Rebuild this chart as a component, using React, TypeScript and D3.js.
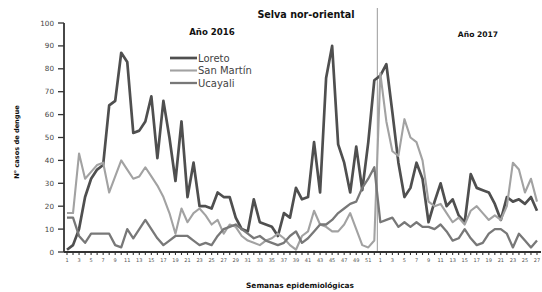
import React from "react";
import * as d3 from "d3";

// semanas epidemiológicas: 2016 (1-52) y 2017 (1-27)
const semanas2016 = d3.range(1, 53);
const semanas2017 = d3.range(1, 28);
const semanas = [...semanas2016, ...semanas2017];

const loreto = [
  1, 3, 10, 24, 32, 36, 38, 64, 66, 87,
  83, 52, 53, 57, 68, 41, 66, 50, 31, 57,
  24, 39, 20, 20, 19, 26, 24, 24, 15, 10,
  9, 23, 13, 12, 11, 7, 17, 15, 28, 23,
  24, 48, 26, 76, 90, 47, 39, 26, 46, 27,
  48, 75, 77, 82, 61, 39, 24, 28, 39, 32,
  13, 22, 30, 20, 23, 16, 13, 34, 28, 27,
  26, 21, 14, 24, 22, 23, 21, 24, 18,
];

const sanMartin = [
  17, 17, 43, 32, 35, 38, 39, 26, 33, 40,
  36, 32, 33, 37, 33, 29, 24, 17, 8, 19,
  13, 17, 19, 16, 12, 14, 8, 12, 11, 7,
  5, 4, 3, 5, 6, 8, 6, 3, 1, 7,
  9, 18, 12, 11, 9, 9, 12, 17, 10, 3,
  2, 5, 78, 57, 44, 42, 58, 50, 48, 40,
  22, 20, 21, 17, 13, 15, 12, 18, 20, 17,
  14, 16, 14, 20, 39, 36, 26, 32, 22,
];

const ucayali = [
  15, 15, 7, 4, 8, 8, 8, 8, 3, 2,
  10, 6, 10, 14, 10, 6, 3, 5, 7, 7,
  7, 5, 3, 4, 3, 7, 10, 11, 12, 10,
  8, 6, 7, 5, 4, 3, 4, 7, 9, 4,
  6, 9, 12, 12, 14, 17, 19, 21, 22, 28,
  32, 37, 13, 14, 15, 11, 13, 11, 13, 11,
  11, 10, 12, 9, 5, 6, 10, 6, 3, 4,
  8, 10, 10, 8, 2, 8, 5, 2, 5,
];

const yTicks = [0, 10, 20, 30, 40, 50, 60, 70, 80, 90, 100];

const series = [
  { name: "Loreto", values: loreto, color: "#4f4f4f", width: 2.7 },
  { name: "San Martín", values: sanMartin, color: "#a2a2a2", width: 2.1 },
  { name: "Ucayali", values: ucayali, color: "#787878", width: 2.3 },
];

export default function App() {
  const width = 542;
  const height = 292;

  const x = d3.scaleLinear().domain([0, semanas.length - 1]).range([67, 537]);
  const y = d3.scaleLinear().domain([0, 100]).range([252, 23]);

  const line = d3
    .line<number>()
    .x((d, i) => x(i))
    .y((d) => y(d));

  const sep = (x(semanas2016.length - 1) + x(semanas2016.length)) / 2;

  return (
    <div style={{ position: "absolute", left: 0, top: 0 }}>
      <svg width={width} height={height} style={{ display: "block", background: "#fff" }}>
        <g fontFamily="DejaVu Sans, sans-serif">
          {/* title */}
          <text x={306} y={18} fontSize={9.6} fontWeight="bold" textAnchor="middle" fill="#111">
            Selva nor-oriental
          </text>
          <text x={212} y={35} fontSize={8.6} fontWeight="bold" textAnchor="middle" fill="#111">
            Año 2016
          </text>
          <text x={478} y={37} fontSize={7.6} fontWeight="bold" textAnchor="middle" fill="#111">
            Año 2017
          </text>

          {/* y axis */}
          <line x1={64} x2={64} y1={y(100)} y2={y(0)} stroke="#333" strokeWidth={1.8} />
          {yTicks.map((t) => (
            <g key={t}>
              <line x1={58} x2={64} y1={y(t)} y2={y(t)} stroke="#333" strokeWidth={1.3} />
              <text x={54} y={y(t) + 2.5} fontSize={7.2} textAnchor="end" fill="#444">
                {t}
              </text>
            </g>
          ))}
          <text
            transform={`translate(19,142) rotate(-90)`}
            fontSize={6.6}
            fontWeight="bold"
            textAnchor="middle"
            fill="#111"
          >
            N° casos de dengue
          </text>

          {/* separator between years */}
          <line x1={sep} x2={sep} y1={8} y2={y(0)} stroke="#9a9a9a" strokeWidth={1} />

          {/* series */}
          {series.map((s) => (
            <path
              key={s.name}
              d={line(s.values) || ""}
              fill="none"
              stroke={s.color}
              strokeWidth={s.width}
              strokeLinejoin="round"
            />
          ))}

          {/* x axis */}
          <line x1={64} x2={541} y1={y(0)} y2={y(0)} stroke="#333" strokeWidth={2} />
          {semanas.map((w, i) => (
            <line key={"t" + i} x1={x(i)} x2={x(i)} y1={y(0)} y2={y(0) + 3} stroke="#333" strokeWidth={1.1} />
          ))}
          {semanas.map((w, i) =>
            w % 2 === 1 ? (
              <text key={"l" + i} x={x(i)} y={262} fontSize={5} textAnchor="middle" fill="#555">
                {w}
              </text>
            ) : null
          )}
          <text x={300} y={288} fontSize={7.4} fontWeight="bold" textAnchor="middle" fill="#111">
            Semanas epidemiológicas
          </text>

          {/* legend */}
          {series.map((s, i) => (
            <g key={"lg" + s.name} transform={`translate(170,${58 + i * 12.5})`}>
              <line x1={0} x2={27} y1={0} y2={0} stroke={s.color} strokeWidth={s.width} />
              <text x={28} y={3.6} fontSize={10} fill="#444">
                {s.name}
              </text>
            </g>
          ))}
        </g>
      </svg>
    </div>
  );
}
